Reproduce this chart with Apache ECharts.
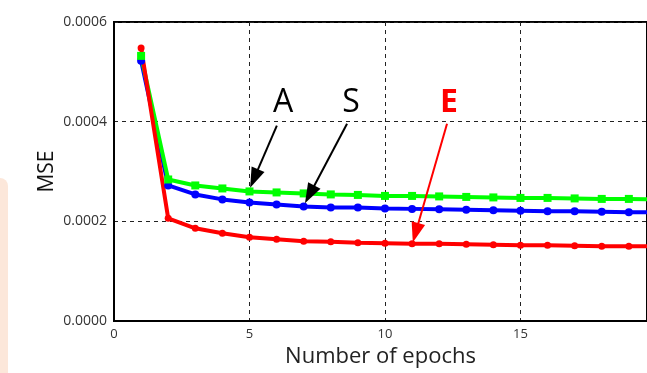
<!DOCTYPE html>
<html>
<head>
<meta charset="utf-8">
<script src="https://cdn.jsdelivr.net/npm/echarts@6/dist/echarts.min.js"></script>
<style>html,body{margin:0;padding:0;background:#fff;}#c{width:647px;height:373px;}</style>
</head>
<body>
<div id="c"></div>
<script>
const epochs = [1,2,3,4,5,6,7,8,9,10,11,12,13,14,15,16,17,18,19,20];
const seriesA = [0.000532,0.000284,0.000272,0.000266,0.000260,0.000258,0.000256,0.000254,0.000253,0.000251,0.000251,0.000250,0.000249,0.000248,0.000247,0.000247,0.000246,0.000245,0.000245,0.000244];
const seriesS = [0.000522,0.000272,0.000254,0.000244,0.000238,0.000234,0.000230,0.000228,0.000228,0.000226,0.000225,0.000224,0.000223,0.000222,0.000221,0.000220,0.000220,0.000219,0.000218,0.000218];
const seriesE = [0.000548,0.000206,0.000186,0.000176,0.000168,0.000164,0.000160,0.000159,0.000157,0.000156,0.000155,0.000155,0.000154,0.000153,0.000152,0.000152,0.000151,0.000150,0.000150,0.000150];
const yTicks = ['0.0000','0.0002','0.0004','0.0006'];
const xTicks = ['0','5','10','15'];
const annotations = [
  {name:'A', color:'#000', bold:false, text:[6.24,0.000437], from:[6.01,0.000392], to:[5.17,0.000286]},
  {name:'S', color:'#000', bold:false, text:[8.75,0.000437], from:[8.6,0.000396], to:[7.22,0.000254]},
  {name:'E', color:'#ff0000', bold:true, text:[12.36,0.000437], from:[12.29,0.000396], to:[11.13,0.000177]}
];

const zip = (arr) => epochs.map((e,i)=>[e, arr[i]]);
const chart = echarts.init(document.getElementById('c'), null, {renderer:'canvas'});
const font = 'Open Sans, Noto Sans, sans-serif';
const mk = (name, data, color, symbol, size) => ({
  name, type:'line', data: zip(data), symbol, symbolSize:size,
  lineStyle:{color, width:4}, itemStyle:{color}, z:3, animation:false
});
const series = [
  mk('S', seriesS, '#0000ff', 'circle', 8),
  mk('A', seriesA, '#00ff00', 'rect', 8),
  mk('E', seriesE, '#ff0000', 'circle', 7)
];
series.push({
  type:'line', data:[], animation:false,
  markLine:{
    silent:true, animation:false, symbol:['none','triangle'], symbolSize:[14,20],
    label:{show:false},
    data: annotations.map(a=>[
      {coord:a.from, lineStyle:{color:a.color, width:2, type:'solid'}},
      {coord:a.to}
    ])
  },
  markPoint:{
    silent:true, animation:false, symbol:'circle', symbolSize:0,
    data: annotations.map(a=>({
      coord:a.text, value:a.name,
      label:{show:true, position:'inside', formatter:a.name, color:a.color,
        fontSize:32, fontWeight:a.bold?'bold':'normal', fontFamily:font}
    }))
  }
});

chart.setOption({
  animation:false,
  backgroundColor:'#fff',
  grid:{left:114, top:22, bottom:52, right:0, show:true, borderColor:'#000', borderWidth:2, backgroundColor:'transparent'},
  xAxis:{
    type:'value', min:0, max:19.67, interval:5,
    name:'Number of epochs', nameLocation:'middle', nameGap:25, nameMoveOverlap:false,
    nameTextStyle:{fontSize:22, color:'#222', fontFamily:font},
    axisLine:{show:true, lineStyle:{color:'#000', width:2}},
    axisTick:{show:false},
    axisLabel:{color:'#333', fontSize:13, fontFamily:font, margin:7, showMaxLabel:false,
      formatter:(v)=>{const i=xTicks.indexOf(String(v)); return i>=0?xTicks[i]:'';}},
    splitLine:{show:true, lineStyle:{color:'#222', type:[4,4], width:1}}
  },
  yAxis:{
    type:'value', min:0, max:0.0006, interval:0.0002,
    name:'MSE', nameLocation:'middle', nameGap:56, nameRotate:90, nameMoveOverlap:false,
    nameTextStyle:{fontSize:21, color:'#111', fontFamily:font},
    axisLine:{show:true, lineStyle:{color:'#000', width:2}},
    axisTick:{show:false},
    axisLabel:{color:'#333', fontSize:14, fontFamily:font, margin:7,
      formatter:(v)=>yTicks[Math.round(v/0.0002)]},
    splitLine:{show:true, lineStyle:{color:'#222', type:[4,4], width:1}}
  },
  graphic:[{type:'rect', left:-10, top:178, shape:{width:18, height:230, r:8}, style:{fill:'#fce7da'}, z:-1}],
  series
});
</script>
</body>
</html>
